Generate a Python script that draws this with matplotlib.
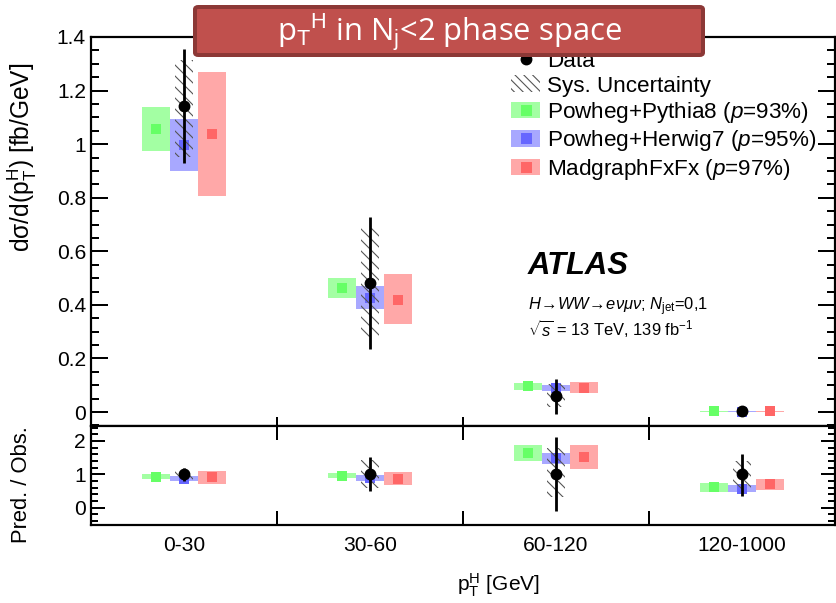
import matplotlib
matplotlib.use('Agg')
import matplotlib.pyplot as plt
from matplotlib.patches import Rectangle, FancyBboxPatch, Patch
from matplotlib.lines import Line2D
from matplotlib.ticker import MultipleLocator, FixedLocator, FuncFormatter, NullFormatter
import numpy as np

# ---------------- data ----------------
bins = ['0-30', '30-60', '60-120', '120-1000']

data_val = [1.142, 0.482, 0.0587, 0.0035]
data_err_hi = [1.354, 0.727, 0.125, 0.0057]
data_err_lo = [0.930, 0.237, -0.006, 0.0012]
data_sys_hi = [1.314, 0.686, 0.106, 0.0049]
data_sys_lo = [0.953, 0.280, 0.019, 0.0019]

pp8_val = [1.056, 0.463, 0.097, 0.0022]
pp8_lo = [0.974, 0.426, 0.084, 0.0017]
pp8_hi = [1.137, 0.502, 0.110, 0.0026]

ph7_val = [0.997, 0.426, 0.089, 0.0020]
ph7_lo = [0.900, 0.384, 0.078, 0.0016]
ph7_hi = [1.093, 0.470, 0.100, 0.0023]

mg_val = [1.038, 0.420, 0.091, 0.0024]
mg_lo = [0.807, 0.327, 0.070, 0.0019]
mg_hi = [1.268, 0.515, 0.111, 0.0030]

# ratio panel (prediction / observed)
r_data_err_hi = [1.19, 1.51, 2.13, 1.62]
r_data_err_lo = [0.81, 0.49, -0.10, 0.35]
r_sys_hi = [1.15, 1.42, 1.80, 1.40]
r_sys_lo = [0.84, 0.58, 0.32, 0.55]

r_pp8_val = [0.925, 0.96, 1.63, 0.62]
r_pp8_lo = [0.853, 0.884, 1.40, 0.48]
r_pp8_hi = [0.996, 1.04, 1.87, 0.75]

r_ph7_val = [0.873, 0.884, 1.48, 0.57]
r_ph7_lo = [0.788, 0.80, 1.32, 0.47]
r_ph7_hi = [0.957, 0.975, 1.63, 0.67]

r_mg_val = [0.909, 0.87, 1.53, 0.70]
r_mg_lo = [0.707, 0.68, 1.17, 0.53]
r_mg_hi = [1.11, 1.07, 1.87, 0.85]

model_labels = ['Powheg+Pythia8 ($p$=93%)', 'Powheg+Herwig7 ($p$=95%)', 'MadgraphFxFx ($p$=97%)']
box_colors = ['#a3ffa3', '#a8a8ff', '#ffa8a8']
mark_colors = ['#66ff66', '#6666ff', '#ff6666']

# ---------------- figure setup ----------------
DPI = 132
W, H = 836, 603
def pt(px):
    return px * 72.0 / DPI

plt.rcParams['font.family'] = ['Liberation Sans', 'DejaVu Sans']
plt.rcParams['mathtext.fontset'] = 'custom'
plt.rcParams['mathtext.rm'] = 'Liberation Sans'
plt.rcParams['mathtext.it'] = 'Liberation Sans:italic'
plt.rcParams['mathtext.bf'] = 'Liberation Sans:bold'
plt.rcParams['hatch.linewidth'] = 0.6

fig = plt.figure(figsize=(W / DPI, H / DPI), dpi=DPI)

def fx(px):
    return px / W
def fy(py):
    return 1 - py / H

L, R = 91, 835
ax = fig.add_axes([fx(L), fy(426), fx(R) - fx(L), fy(37) - fy(426)])
axr = fig.add_axes([fx(L), fy(525), fx(R) - fx(L), fy(426) - fy(525)])

centers = np.arange(len(bins)) + 0.5
offsets = [-0.15, 0.0, 0.15]
bw = 0.15
hw = 0.10
HATCH = '\\\\\\\\'
HCOL = '#555555'

def draw_panel(a, vals, los, his, dval, dlo, dhi, slo, shi):
    for m in range(3):
        for i, c in enumerate(centers):
            x0 = c + offsets[m]
            a.add_patch(Rectangle((x0 - bw / 2, los[m][i]), bw, his[m][i] - los[m][i],
                                  facecolor=box_colors[m], edgecolor='none', zorder=2))
        a.plot(centers + offsets[m], vals[m], ls='none', marker='s', ms=pt(10),
               mfc=mark_colors[m], mec='none', zorder=3)
    for i, c in enumerate(centers):
        a.add_patch(Rectangle((c - hw / 2, slo[i]), hw, shi[i] - slo[i], fill=False,
                              hatch=HATCH, edgecolor=HCOL, linewidth=0, zorder=4))
    a.vlines(centers, dlo, dhi, color='k', lw=pt(2.8), zorder=5)
    a.plot(centers, dval, ls='none', marker='o', ms=pt(10), color='k', zorder=6)

draw_panel(ax, [pp8_val, ph7_val, mg_val], [pp8_lo, ph7_lo, mg_lo], [pp8_hi, ph7_hi, mg_hi],
           data_val, data_err_lo, data_err_hi, data_sys_lo, data_sys_hi)
draw_panel(axr, [r_pp8_val, r_ph7_val, r_mg_val], [r_pp8_lo, r_ph7_lo, r_mg_lo],
           [r_pp8_hi, r_ph7_hi, r_mg_hi], [1.0] * len(bins), r_data_err_lo, r_data_err_hi,
           r_sys_lo, r_sys_hi)

# ---------------- axes styling ----------------
for a in (ax, axr):
    a.set_xlim(0, len(bins))
    for s in a.spines.values():
        s.set_linewidth(pt(2.2))
    a.xaxis.set_major_locator(FixedLocator(np.arange(1, len(bins))))
    a.xaxis.set_major_formatter(NullFormatter())

ax.set_ylim(-0.052, 1.40)
ax.yaxis.set_major_locator(MultipleLocator(0.2))
ax.yaxis.set_minor_locator(MultipleLocator(0.05))
ax.yaxis.set_major_formatter(FuncFormatter(lambda v, p: '%g' % round(v, 3)))
ax.tick_params(axis='y', which='major', direction='in', length=pt(17), width=pt(2), left=True, right=True,
               labelsize=pt(21), pad=pt(5))
ax.tick_params(axis='y', which='minor', direction='in', length=pt(8), width=pt(2), left=True, right=True)
ax.tick_params(axis='x', which='major', direction='in', length=pt(9), width=pt(2), bottom=True, top=False)

axr.set_ylim(-0.52, 2.45)
axr.yaxis.set_major_locator(MultipleLocator(1))
axr.yaxis.set_minor_locator(MultipleLocator(0.2))
axr.tick_params(axis='y', which='major', direction='in', length=pt(14), width=pt(2), left=True, right=True,
                labelsize=pt(21), pad=pt(5))
axr.tick_params(axis='y', which='minor', direction='in', length=pt(7), width=pt(2), left=True, right=True)
axr.tick_params(axis='x', which='major', direction='in', length=pt(14), width=pt(2), bottom=True, top=True)
axr.xaxis.set_minor_locator(FixedLocator(centers))
axr.xaxis.set_minor_formatter(FuncFormatter(lambda v, p: bins[int(v)]))
axr.tick_params(axis='x', which='minor', length=0, labelsize=pt(21), pad=pt(11))

# axis labels
fig.text(fx(22), fy(157), 'd\u03c3/d(p$_{\\rm T}^{\\rm H}$) [fb/GeV]', rotation=90,
         ha='center', va='center', fontsize=pt(24.5))
fig.text(fx(22), fy(485), 'Pred. / Obs.', rotation=90, ha='center', va='center', fontsize=pt(22))
fig.text(fx(498), fy(585), 'p$_{\\rm T}^{\\rm H}$ [GeV]', ha='center', va='center', fontsize=pt(21))

# annotations
ax.text(fx(528), fy(274), 'ATLAS', transform=fig.transFigure, fontsize=pt(31),
        fontweight='bold', fontstyle='italic', ha='left', va='baseline')
ax.text(fx(528), fy(310), '$H\\!\\rightarrow\\!WW\\!\\rightarrow\\!e\\nu\\mu\\nu$; $N_{\\rm jet}$=0,1',
        transform=fig.transFigure, fontsize=pt(16.5), ha='left', va='baseline')
ax.text(fx(528), fy(336), '$\\sqrt{s}$ = 13 TeV, 139 fb$^{-1}$',
        transform=fig.transFigure, fontsize=pt(16.5), ha='left', va='baseline')

# legend
handles = [Line2D([], [], ls='none', marker='o', color='k', ms=pt(10)),
           Patch(facecolor='none', edgecolor=HCOL, hatch='\\\\\\\\\\', linewidth=0)]
for m in range(3):
    handles.append((Patch(facecolor=box_colors[m], edgecolor='none'),
                    Line2D([], [], ls='none', marker='s', ms=pt(11), mfc=mark_colors[m], mec='none')))
labels = ['Data', 'Sys. Uncertainty'] + model_labels
ax.legend(handles, labels, loc='upper left', bbox_to_anchor=(fx(511), fy(51)),
          bbox_transform=fig.transFigure, frameon=False, fontsize=pt(22.5),
          handlelength=1.3, handleheight=0.75, handletextpad=0.3, labelspacing=0.15,
          borderpad=0, borderaxespad=0)

# title banner
banner = FancyBboxPatch((fx(195), fy(55)), fx(703) - fx(195), fy(7) - fy(55),
                        boxstyle='round,pad=0,rounding_size=0.004', transform=fig.transFigure,
                        facecolor='#c0504d', edgecolor='#8c3836', linewidth=pt(4), zorder=20)
fig.add_artist(banner)
fig.text(fx(449), fy(32), 'p$_{\\rm T}$$^{\\rm H}$ in N$_{\\rm j}$<2 phase space', color='white',
         fontsize=pt(31), ha='center', va='center', family=['Open Sans', 'DejaVu Sans'], zorder=21)

fig.savefig('out.png', dpi=DPI)
